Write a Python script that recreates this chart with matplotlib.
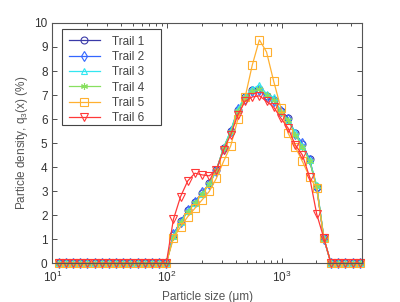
import matplotlib
matplotlib.use("Agg")
import matplotlib.pyplot as plt
from matplotlib.patches import Rectangle
from matplotlib.ticker import LogLocator, NullFormatter, MultipleLocator

plt.rcParams['font.family'] = ['Liberation Sans', 'DejaVu Sans']
plt.rcParams['mathtext.fontset'] = 'custom'
plt.rcParams['mathtext.rm'] = 'Liberation Sans'
plt.rcParams['mathtext.it'] = 'Liberation Sans'

sizes = [11.37, 13.13, 15.16, 17.51, 20.21, 23.34, 26.95, 31.12, 35.93, 41.49,
         47.90, 55.31, 63.86, 73.74, 85.14, 98.3,
         113.5, 131.1, 151.3, 174.7, 201.8, 232.9, 269.0, 310.6, 358.6, 414.1,
         478.1, 552.1, 637.4, 736.0, 849.8, 981.3, 1133, 1308, 1511, 1744,
         2014, 2326,
         2685, 3100, 3580, 4133, 4772]

left_zeros = [0.0] * 16
right_zeros = [0.0] * 5

trail1 = [1.18, 1.76, 2.22, 2.57, 2.92, 3.33, 3.89, 4.79, 5.49, 6.36, 6.90,
          7.22, 7.25, 6.97, 6.80, 6.32, 6.04, 5.42, 4.97, 4.33, 3.19, 1.04]
trail2 = [1.20, 1.74, 2.20, 2.55, 2.95, 3.30, 3.85, 4.75, 5.50, 6.40, 6.85,
          7.18, 7.20, 6.92, 6.75, 6.35, 6.00, 5.38, 5.00, 4.28, 3.15, 1.00]
trail3 = [1.15, 1.72, 2.18, 2.52, 2.88, 3.28, 3.86, 4.82, 5.52, 6.42, 6.95,
          7.25, 7.42, 7.05, 6.90, 6.30, 5.95, 5.45, 4.90, 4.30, 3.25, 1.05]
trail4 = [1.10, 1.70, 2.15, 2.50, 2.90, 3.30, 3.88, 4.80, 5.45, 6.35, 6.88,
          7.15, 7.25, 7.02, 6.78, 6.28, 5.98, 5.35, 4.85, 4.25, 3.20, 1.02]
trail5 = [1.04, 1.53, 1.94, 2.29, 2.64, 2.99, 3.54, 4.24, 4.89, 6.00, 6.90,
          8.24, 9.30, 8.79, 7.57, 6.46, 5.42, 4.85, 4.24, 3.60, 3.12, 1.04]
trail6 = [1.83, 2.78, 3.43, 3.75, 3.68, 3.64, 3.89, 4.72, 5.35, 6.18, 6.74,
          6.92, 6.97, 6.74, 6.50, 6.04, 5.63, 4.93, 4.51, 3.60, 2.05, 1.04]

labels = ['Trail 1', 'Trail 2', 'Trail 3', 'Trail 4', 'Trail 5', 'Trail 6']
series = [trail1, trail2, trail3, trail4, trail5, trail6]
colors = ['#3a3aa8', '#3366ff', '#33e6f0', '#88e060', '#ffb030', '#ff3838']
markers = ['o', 'd', '^', (6, 2, 0), 's', 'v']
msizes = [5, 5, 5, 5, 5.5, 5.5]

fig = plt.figure(figsize=(4.0, 3.02), dpi=100)
ax = fig.add_axes([0.131, 0.128, 0.774, 0.796])

for lab, s, c, m, ms in zip(labels, series, colors, markers, msizes):
    y = left_zeros + s + right_zeros
    ax.plot(sizes, y, color=c, marker=m, markersize=ms, markerfacecolor='none',
            markeredgecolor=c, markeredgewidth=0.8, linewidth=0.9, label=lab,
            clip_on=False)

ax.set_xscale('log')
ax.set_xlim(10, 5000)
ax.set_ylim(0, 10)
ax.yaxis.set_major_locator(MultipleLocator(1))
ax.xaxis.set_major_locator(LogLocator(base=10, numticks=10))
ax.xaxis.set_minor_locator(LogLocator(base=10, subs=range(2, 10), numticks=20))
ax.xaxis.set_minor_formatter(NullFormatter())

ax.tick_params(which='both', direction='in', top=True, right=True,
               colors='#333333', labelsize=8.5, width=0.6)
ax.tick_params(which='major', length=3.5)
ax.tick_params(which='minor', length=2)
ax.tick_params(axis='x', which='major', pad=5)
for sp in ax.spines.values():
    sp.set_color('#555555')
    sp.set_linewidth(0.8)

ax.set_xlabel('Particle size (\u03bcm)', fontsize=8.5, color='#555555', labelpad=4)
ax.set_ylabel('Particle density, q$_3$(x) (%)', fontsize=8.5, color='#555555', labelpad=3)

frame = Rectangle((0.0307, 0.5755), 0.32, 0.3995, transform=ax.transAxes,
                  facecolor='white', edgecolor='#444444', linewidth=0.8, zorder=5)
ax.add_patch(frame)

leg = ax.legend(loc='upper left', bbox_to_anchor=(0.033, 0.972), borderaxespad=0,
                fontsize=8.5, handlelength=2.7, frameon=False,
                labelspacing=0.28, borderpad=0.5, handletextpad=1.0)
leg.set_zorder(6)
for t in leg.get_texts():
    t.set_color('#444444')

fig.savefig('out.png', dpi=100)
